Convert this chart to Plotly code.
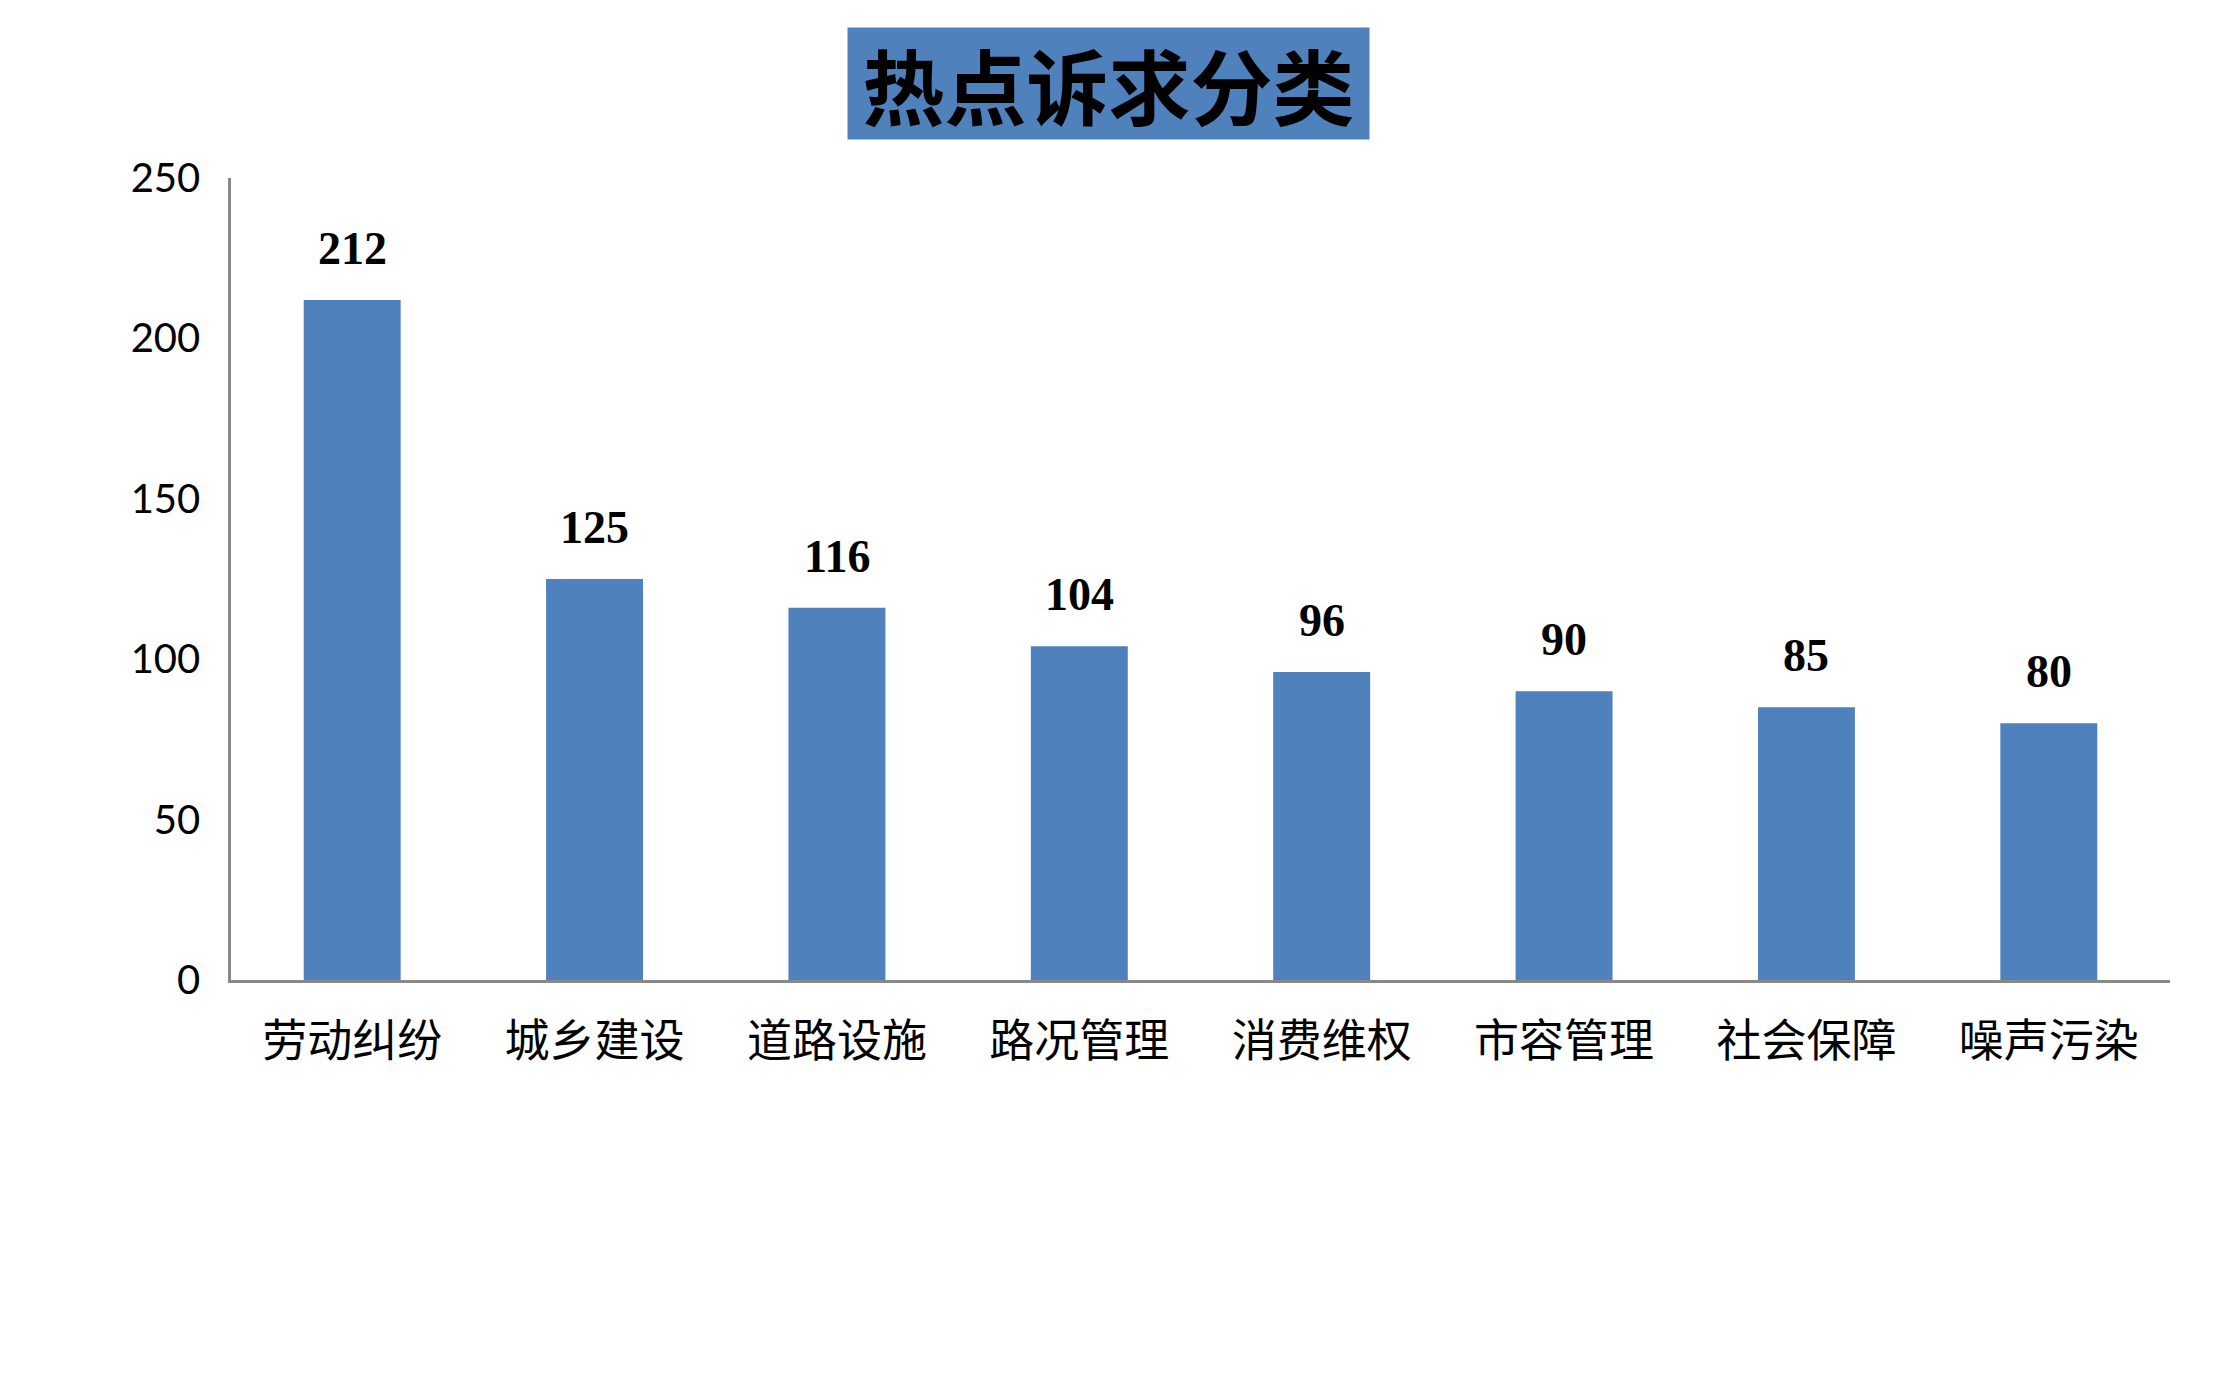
import plotly.graph_objects as go

categories = ["劳动纠纷", "城乡建设", "道路设施", "路况管理", "消费维权", "市容管理", "社会保障", "噪声污染"]
values = [212, 125, 116, 104, 96, 90, 85, 80]
y_ticks = [0, 50, 100, 150, 200, 250]
title_text = "热点诉求分类"

BAR = "#4F81BD"
AXIS = "#898989"

fig = go.Figure()
fig.add_trace(go.Bar(x=categories, y=values, marker=dict(color=BAR, line=dict(width=0)),
                     hoverinfo="x+y"))

for c, v in zip(categories, values):
    fig.add_annotation(x=c, y=v, xref="x", yref="y", text=f"<b>{v}</b>", showarrow=False,
                       yanchor="bottom", yshift=24,
                       font=dict(family="Liberation Serif", size=46, color="black"))

fig.add_annotation(x=0.4528, y=1.1178, xref="paper", yref="paper", text=f"<b>{title_text}</b>",
                   showarrow=False, xanchor="center", yanchor="middle",
                   bgcolor=BAR, width=515, height=105, borderpad=3,
                   font=dict(family="Noto Sans CJK SC", size=82, color="black"))

fig.update_layout(
    width=2213, height=1385,
    margin=dict(l=223, r=51, t=170, b=413),
    paper_bgcolor="white", plot_bgcolor="white",
    bargap=0.6, showlegend=False,
)
fig.update_xaxes(showline=True, linecolor=AXIS, linewidth=2.5, showgrid=False, ticks="",
                 ticklabelstandoff=20,
                 tickfont=dict(family="Noto Sans CJK SC", size=45, color="black"))
fig.update_yaxes(range=[0, 250], tickvals=y_ticks, showline=True, linecolor=AXIS, linewidth=2.5,
                 showgrid=False, zeroline=False, ticks="", ticklabelstandoff=20,
                 tickfont=dict(family="Lato", size=40, color="black"))

fig.write_html("out.html")
